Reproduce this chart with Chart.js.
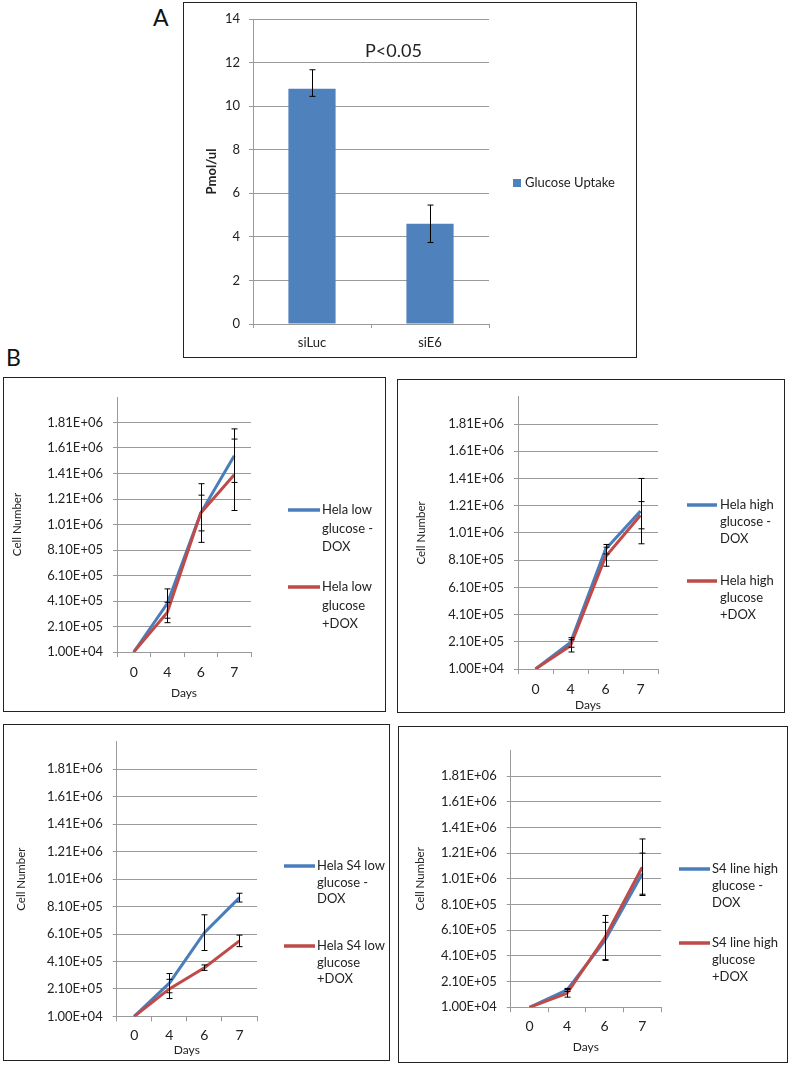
<!DOCTYPE html>
<html>
<head>
<meta charset="utf-8">
<script src="https://cdn.jsdelivr.net/npm/chart.js@4.4.1/dist/chart.umd.min.js"></script>
<style>
body{margin:0;background:#fff;width:790px;height:1066px;position:relative;font-family:Lato,sans-serif;overflow:hidden;}
.box{position:absolute;border:1.5px solid #222;box-sizing:border-box;}
.box canvas{position:absolute;left:-1.5px;top:-1.5px;}
.tag{position:absolute;font-size:23px;line-height:23px;color:#111;}
</style>
</head>
<body>
<div class="tag" style="left:153px;top:6px">A</div>
<div class="tag" style="left:6px;top:346px">B</div>
<div class="box" style="left:183px;top:2px;width:454px;height:356px"><canvas id="cA" width="454" height="356"></canvas></div>
<div class="box" style="left:3px;top:377px;width:383px;height:335px"><canvas id="c1" width="383" height="335"></canvas></div>
<div class="box" style="left:397px;top:379px;width:388px;height:334px"><canvas id="c2" width="388" height="334"></canvas></div>
<div class="box" style="left:3px;top:724px;width:387px;height:337px"><canvas id="c3" width="387" height="337"></canvas></div>
<div class="box" style="left:398px;top:726px;width:390px;height:337px"><canvas id="c4" width="390" height="337"></canvas></div>
<script>
// panel A
var uptakeCats = ["siLuc", "siE6"];
var uptakeVals = [10.8, 4.6];
var uptakeErrUp = [0.87, 0.86];
var uptakeErrDown = [0.35, 0.86];
var uptakeLabel = "Glucose Uptake";
var pLabel = "P<0.05";

// panel B
var days = ["0", "4", "6", "7"];
var cellTicks = [1e4, 2.1e5, 4.1e5, 6.1e5, 8.1e5, 1.01e6, 1.21e6, 1.41e6, 1.61e6, 1.81e6, 2.01e6];
var cellTickLabels = ["1.00E+04", "2.10E+05", "4.10E+05", "6.10E+05", "8.10E+05", "1.01E+06", "1.21E+06", "1.41E+06", "1.61E+06", "1.81E+06", ""];

var helaLowMinus = [1e4, 3.9e5, 1.10e6, 1.55e6];
var helaLowMinusErr = [0, 1.15e5, 2.3e5, 2.1e5];
var helaLowPlus = [1e4, 3.2e5, 1.10e6, 1.40e6];
var helaLowPlusErr = [0, 0.8e5, 1.4e5, 2.8e5];
var helaLowNames = [["Hela low", "glucose -", "DOX"], ["Hela low", "glucose", "+DOX"]];

var helaHighMinus = [1e4, 2.05e5, 8.9e5, 1.17e6];
var helaHighMinusErr = [0, 0.35e5, 0.35e5, 2.4e5];
var helaHighPlus = [1e4, 1.8e5, 8.35e5, 1.14e6];
var helaHighPlusErr = [0, 0.45e5, 0.7e5, 1.0e5];
var helaHighNames = [["Hela high", "glucose -", "DOX"], ["Hela high", "glucose", "+DOX"]];

var s4LowMinus = [1e4, 2.52e5, 6.2e5, 8.75e5];
var s4LowMinusErr = [0, 0.7e5, 1.3e5, 0.32e5];
var s4LowPlus = [1e4, 2.1e5, 3.65e5, 5.6e5];
var s4LowPlusErr = [0, 0.7e5, 0.2e5, 0.42e5];
var s4LowNames = [["Hela S4 low", "glucose -", "DOX"], ["Hela S4 low", "glucose", "+DOX"]];

var s4HighMinus = [1e4, 1.45e5, 5.26e5, 1.05e6];
var s4HighMinusErr = [0, 0.12e5, 1.45e5, 1.6e5];
var s4HighPlus = [1e4, 1.19e5, 5.5e5, 1.10e6];
var s4HighPlusErr = [0, 0.3e5, 1.75e5, 2.2e5];
var s4HighNames = [["S4 line high", "glucose -", "DOX"], ["S4 line high", "glucose", "+DOX"]];

var blue = "#4A7EBB", red = "#BE4B48", gridCol = "#9a9a9a", txt = "#222";
Chart.defaults.font.family = "Lato, sans-serif";
Chart.defaults.color = txt;

const errorBars = {
  id: "errorBars",
  afterDatasetsDraw(chart) {
    const ctx = chart.ctx, y = chart.scales.y;
    ctx.save();
    ctx.strokeStyle = "#000";
    ctx.lineWidth = 1;
    chart.data.datasets.forEach((ds, i) => {
      if (!ds.errUp) return;
      chart.getDatasetMeta(i).data.forEach((el, j) => {
        const up = ds.errUp[j], down = ds.errDown ? ds.errDown[j] : up;
        if (!up && !down) return;
        const x = Math.round(el.x) + 0.5;
        const yt = y.getPixelForValue(ds.data[j] + up), yb = y.getPixelForValue(ds.data[j] - down);
        ctx.beginPath();
        ctx.moveTo(x, yt); ctx.lineTo(x, yb);
        ctx.moveTo(x - 3, yt); ctx.lineTo(x + 3, yt);
        ctx.moveTo(x - 3, yb); ctx.lineTo(x + 3, yb);
        ctx.stroke();
      });
    });
    ctx.restore();
  }
};

// legend drawn beside the plot, each entry may have several lines
function sideLegend(L, names, colors) {
  return {
    id: "sideLegend",
    afterDraw(chart) {
      const ctx = chart.ctx;
      ctx.save();
      ctx.font = "13px Lato, sans-serif";
      ctx.textBaseline = "middle";
      ctx.fillStyle = txt;
      names.forEach((lines, k) => {
        const y0 = L.ys[k];
        ctx.strokeStyle = colors[k];
        ctx.lineWidth = 3.5;
        ctx.beginPath();
        ctx.moveTo(L.x0, y0); ctx.lineTo(L.x1, y0);
        ctx.stroke();
        lines.forEach((s, n) => ctx.fillText(s, L.tx, y0 + n * L.lh));
      });
      ctx.restore();
    }
  };
}

new Chart(document.getElementById("cA"), {
  type: "bar",
  data: {
    labels: uptakeCats,
    datasets: [{
      label: uptakeLabel,
      data: uptakeVals,
      errUp: uptakeErrUp,
      errDown: uptakeErrDown,
      backgroundColor: "#4F81BD",
      categoryPercentage: 1,
      barPercentage: 0.4
    }]
  },
  options: {
    responsive: false,
    animation: false,
    layout: {padding: {left: 0, top: 17, right: 148, bottom: 0}},
    plugins: {legend: {display: false}, tooltip: {enabled: false}},
    scales: {
      x: {
        grid: {offset: true, drawOnChartArea: false, tickLength: 4, color: gridCol},
        border: {color: gridCol},
        ticks: {font: {size: 13}, padding: 7},
        afterFit: s => { s.height = 34; }
      },
      y: {
        min: 0, max: 14,
        ticks: {stepSize: 2, font: {size: 13}, padding: 9},
        grid: {tickLength: 4, color: gridCol},
        border: {color: gridCol},
        title: {display: true, text: "Pmol/ul", font: {size: 13, weight: "bold"}, padding: {top: 21, bottom: 0}},
        afterFit: s => { s.width = 70; }
      }
    }
  },
  plugins: [errorBars, {
    id: "extras",
    afterDraw(chart) {
      const ctx = chart.ctx, x = chart.scales.x, y = chart.scales.y;
      ctx.save();
      ctx.fillStyle = txt;
      ctx.textBaseline = "middle";
      ctx.font = "18px Lato, sans-serif";
      ctx.textAlign = "center";
      ctx.fillText(pLabel, x.getPixelForValue(0.69), y.getPixelForValue(12.5));
      ctx.textAlign = "left";
      ctx.font = "13px Lato, sans-serif";
      ctx.fillStyle = "#4F81BD";
      ctx.fillRect(330, 177, 8, 8);
      ctx.fillStyle = txt;
      ctx.fillText(uptakeLabel, 342, 181);
      ctx.restore();
    }
  }]
});

function cellPanel(id, a, aErr, b, bErr, names, L) {
  new Chart(document.getElementById(id), {
    type: "line",
    data: {
      labels: days,
      datasets: [
        {data: a, errUp: aErr, borderColor: blue, backgroundColor: blue, borderWidth: 3, pointRadius: 0, tension: 0, order: 1},
        {data: b, errUp: bErr, borderColor: red, backgroundColor: red, borderWidth: 3, pointRadius: 0, tension: 0, order: 0}
      ]
    },
    options: {
      responsive: false,
      animation: false,
      layout: {padding: {left: 0, top: L.top, right: L.right, bottom: 0}},
      plugins: {legend: {display: false}, tooltip: {enabled: false}},
      scales: {
        x: {
          offset: true,
          grid: {offset: true, drawOnChartArea: false, tickLength: 5, color: gridCol},
          border: {color: gridCol},
          ticks: {font: {size: 14}, padding: L.xPad},
          title: {display: true, text: "Days", font: {size: 12}, padding: {top: 0, bottom: L.daysPad}},
          afterFit: s => { s.height = L.xH; }
        },
        y: {
          min: cellTicks[0], max: cellTicks[cellTicks.length - 1],
          afterBuildTicks: s => { s.ticks = cellTicks.map(v => ({value: v})); },
          ticks: {callback: (v, i) => cellTickLabels[i], font: {size: 13}, padding: 10},
          grid: {tickLength: 4, color: c => (c.tick && c.tick.value === cellTicks[cellTicks.length - 1]) ? "rgba(0,0,0,0)" : gridCol},
          border: {color: gridCol},
          title: {display: true, text: "Cell Number", font: {size: 11.5}, padding: {top: L.titlePad, bottom: 0}},
          afterFit: s => { s.width = L.yW; }
        }
      }
    },
    plugins: [errorBars, sideLegend(L.leg, names, [blue, red])]
  });
}

cellPanel("c1", helaLowMinus, helaLowMinusErr, helaLowPlus, helaLowPlusErr, helaLowNames,
  {top: 20, right: 135, xH: 60, yW: 114, titlePad: 7, xPad: 6.6, daysPad: 11.8,
   leg: {x0: 285, x1: 317, tx: 319, ys: [133, 210], lh: 18.5}});
cellPanel("c2", helaHighMinus, helaHighMinusErr, helaHighPlus, helaHighPlusErr, helaHighNames,
  {top: 8, right: 127, xH: 44, yW: 121, titlePad: 17.8, xPad: 7.3, daysPad: 1.1,
   leg: {x0: 290, x1: 320, tx: 323, ys: [126, 202], lh: 16.7}});
cellPanel("c3", s4LowMinus, s4LowMinusErr, s4LowPlus, s4LowPlusErr, s4LowNames,
  {top: 16.4, right: 133, xH: 44.6, yW: 113.7, titlePad: 11.8, xPad: 5.6, daysPad: 4.1,
   leg: {x0: 281, x1: 312, tx: 314, ys: [142, 222], lh: 16.5}});
cellPanel("c4", s4HighMinus, s4HighMinusErr, s4HighPlus, s4HighPlusErr, s4HighNames,
  {top: 24.3, right: 127, xH: 55.7, yW: 112.7, titlePad: 15.1, xPad: 6, daysPad: 9.1,
   leg: {x0: 281, x1: 312, tx: 314, ys: [143, 217], lh: 17}});
</script>
</body>
</html>
